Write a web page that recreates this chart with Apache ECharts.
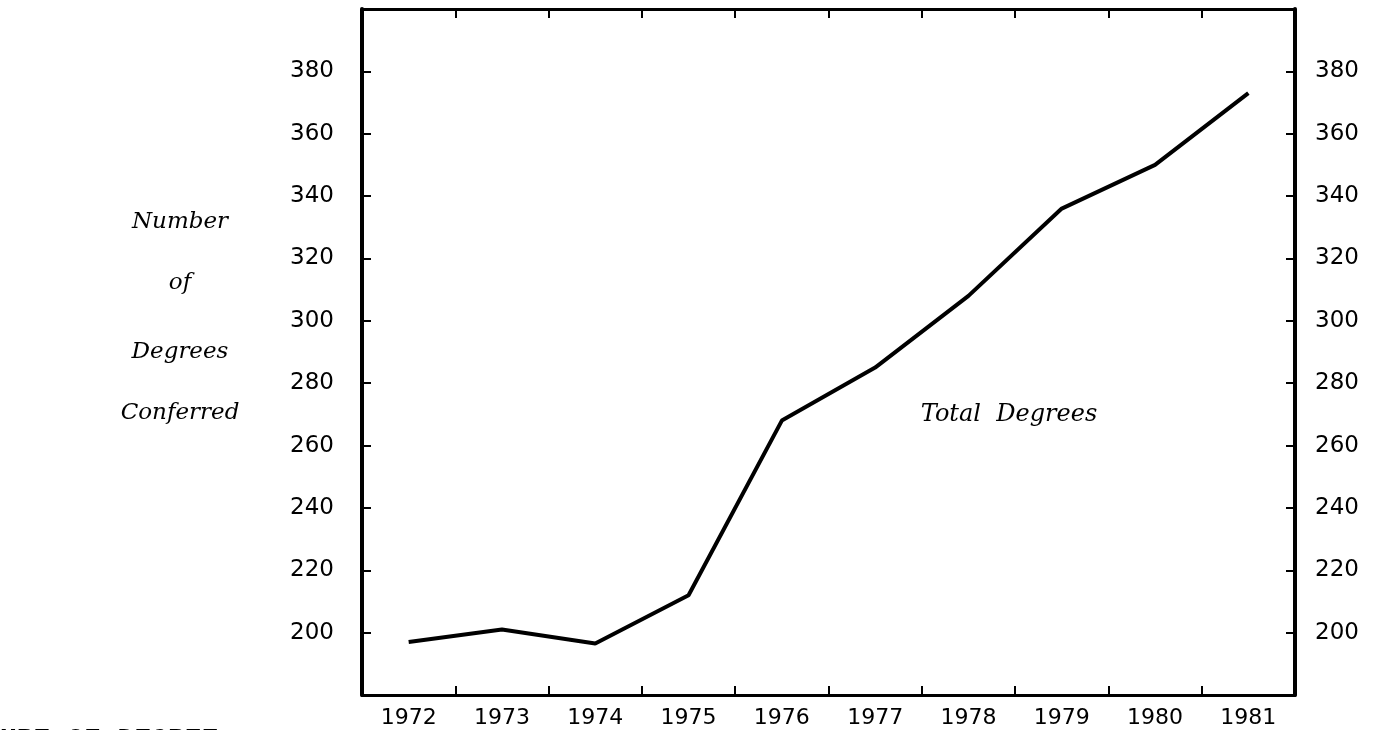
<!DOCTYPE html>
<html>
<head>
<meta charset="utf-8">
<style>
  html, body { margin: 0; padding: 0; background: #ffffff; }
  #chart { width: 1376px; height: 730px; }
</style>
<script src="https://cdn.jsdelivr.net/npm/echarts@6/dist/echarts.min.js"></script>
</head>
<body>
<div id="chart"></div>
<script>
// 年份
var years = ['1972', '1973', '1974', '1975', '1976', '1977', '1978', '1979', '1980', '1981']
// 授予学位总数
var totalDegrees = [197, 201, 196.5, 212, 268, 285, 308, 336, 350, 373]
// 纵轴刻度
var yMin = 180
var yMax = 400
var yStep = 20

var labelFont = 'DejaVu Sans'
var titleFont = 'DejaVu Serif'

function yLabel(v) {
  return (v === yMin || v === yMax) ? '' : String(v)
}

var axisLineStyle = { color: '#000', width: 3 }
var tickStyle = { color: '#000', width: 2 }

var myChart = echarts.init(document.getElementById('chart'))
var option = {
  backgroundColor: '#ffffff',
  animation: false,
  grid: {
    left: 362,
    right: 81,
    top: 9,
    bottom: 35
  },
  xAxis: [
    {
      type: 'category',
      position: 'bottom',
      data: years,
      boundaryGap: true,
      axisLine: { show: true, lineStyle: axisLineStyle },
      axisTick: { show: true, interval: 0, inside: true, length: 9, lineStyle: tickStyle },
      axisLabel: { color: '#000', fontFamily: labelFont, fontSize: 22, margin: 12, interval: 0 },
      splitLine: { show: false }
    },
    {
      type: 'category',
      position: 'top',
      data: years,
      boundaryGap: true,
      axisLine: { show: true, lineStyle: axisLineStyle },
      axisTick: { show: true, interval: 0, inside: true, length: 9, lineStyle: tickStyle },
      axisLabel: { show: false },
      splitLine: { show: false }
    }
  ],
  yAxis: [
    {
      type: 'value',
      position: 'left',
      min: yMin,
      max: yMax,
      interval: yStep,
      axisLine: { show: true, lineStyle: { color: '#000', width: 4 } },
      axisTick: { show: true, inside: true, length: 9, lineStyle: tickStyle },
      axisLabel: { color: '#000', fontFamily: labelFont, fontSize: 23, margin: 28, formatter: yLabel },
      splitLine: { show: false }
    },
    {
      type: 'value',
      position: 'right',
      min: yMin,
      max: yMax,
      interval: yStep,
      axisLine: { show: true, lineStyle: { color: '#000', width: 4 } },
      axisTick: { show: true, inside: true, length: 9, lineStyle: tickStyle },
      axisLabel: { color: '#000', fontFamily: labelFont, fontSize: 23, margin: 20, formatter: yLabel },
      splitLine: { show: false }
    }
  ],
  series: [
    {
      name: 'Total Degrees',
      type: 'line',
      xAxisIndex: 0,
      yAxisIndex: 0,
      data: totalDegrees,
      symbol: 'none',
      lineStyle: { color: '#000', width: 4 }
    }
  ],
  graphic: [
    {
      type: 'group',
      children: [
        { type: 'text', x: 180, y: 222, style: { text: 'Number', fill: '#000', font: 'italic 23px "' + titleFont + '"', textAlign: 'center', textVerticalAlign: 'middle' } },
        { type: 'text', x: 180, y: 283, style: { text: 'of', fill: '#000', font: 'italic 23px "' + titleFont + '"', textAlign: 'center', textVerticalAlign: 'middle' } },
        { type: 'text', x: 180, y: 352, style: { text: 'Degrees', fill: '#000', font: 'italic 23px "' + titleFont + '"', textAlign: 'center', textVerticalAlign: 'middle' } },
        { type: 'text', x: 180, y: 413, style: { text: 'Conferred', fill: '#000', font: 'italic 23px "' + titleFont + '"', textAlign: 'center', textVerticalAlign: 'middle' } }
      ]
    },
    {
      type: 'text',
      x: 1009,
      y: 415,
      style: {
        text: 'Total  Degrees',
        fill: '#000',
        font: 'italic 24px "' + titleFont + '"',
        textAlign: 'center',
        textVerticalAlign: 'middle'
      }
    },
    {
      type: 'text',
      left: 0,
      top: 726,
      style: {
        text: 'URE OF DEGREE',
        fill: '#000',
        font: 'bold 28px "Liberation Mono"'
      }
    }
  ]
}
myChart.setOption(option)
window.onresize = myChart.resize
</script>
</body>
</html>
